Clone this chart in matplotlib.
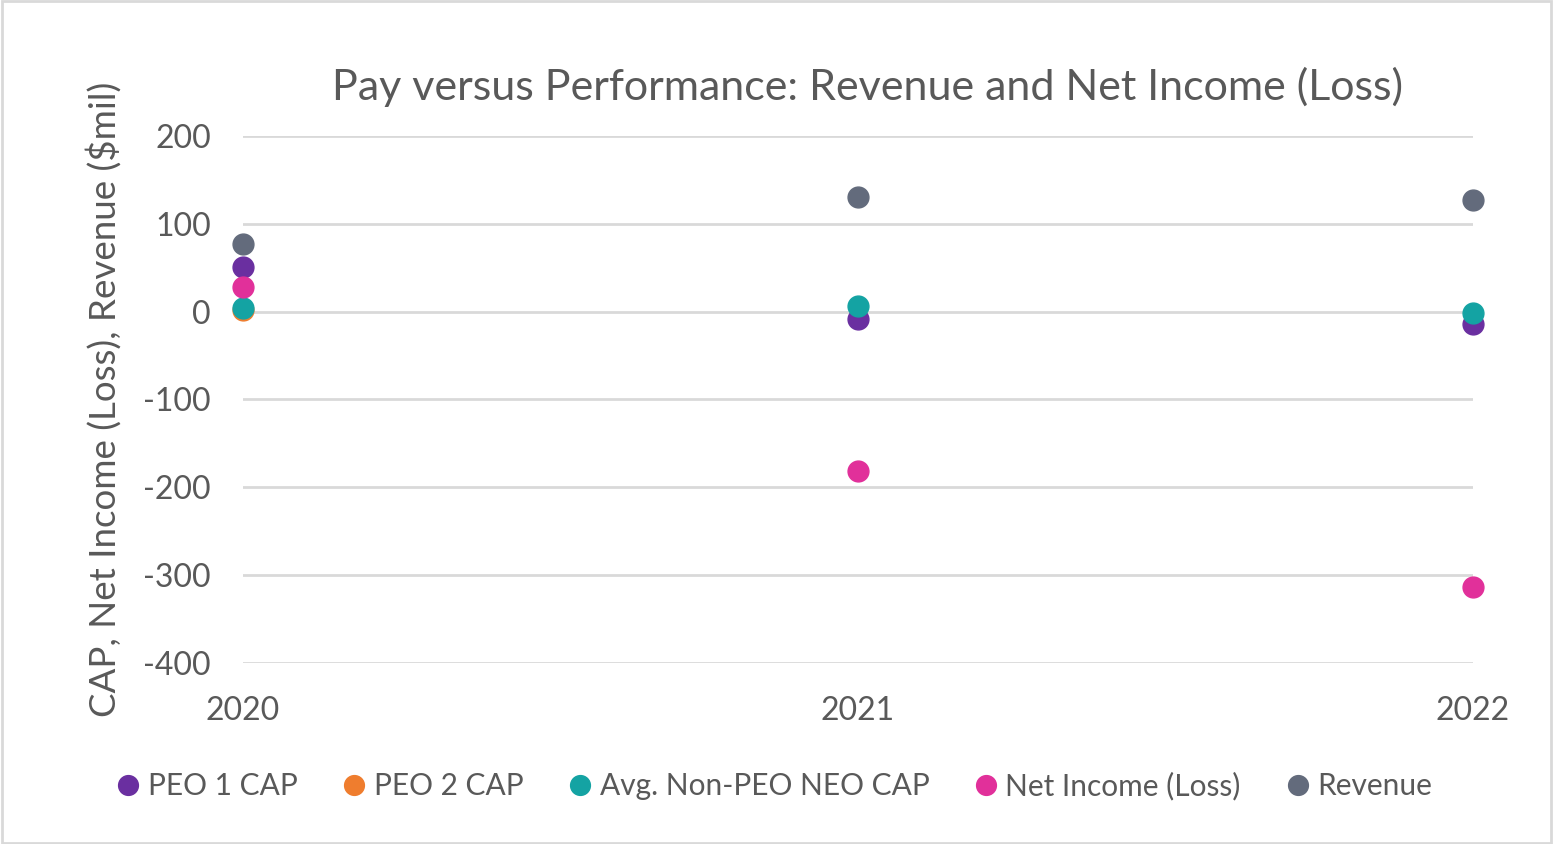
import numpy as np
import matplotlib.pyplot as plt

plt.rcParams['font.family'] = ['Lato', 'DejaVu Sans']
plt.rcParams['axes.unicode_minus'] = False

years = [2020, 2021, 2022]
peo1_cap = [51, -8, -14]
peo2_cap = [1.5, np.nan, np.nan]
avg_neo_cap = [4.5, 6, -1]
net_income = [28.5, -181, -314]
revenue = [77.5, 130, 127.5]

series = [
    ('PEO 1 CAP', peo1_cap, '#6a2fa0'),
    ('PEO 2 CAP', peo2_cap, '#ef7d2e'),
    ('Avg. Non-PEO NEO CAP', avg_neo_cap, '#14a3a3'),
    ('Net Income (Loss)', net_income, '#e1309a'),
    ('Revenue', revenue, '#636b7c'),
]

text_col = '#595959'
fig = plt.figure(figsize=(15.53, 8.44), dpi=100)
ax = fig.add_axes([0.1565, 0.2145, 0.792, 0.6244])

for name, vals, col in series:
    ax.plot(years, vals, 'o', color=col, markersize=15, label=name, clip_on=False, zorder=3)

ax.set_xlim(2020, 2022)
ax.set_ylim(-400, 200)
ax.set_xticks(years)
ax.set_yticks(range(-400, 201, 100))
ax.grid(axis='y', color='#d9d9d9', linewidth=2)
ax.set_axisbelow(True)
for s in ax.spines.values():
    s.set_visible(False)
ax.tick_params(length=0, labelsize=23, colors=text_col)
ax.tick_params(axis='y', pad=23)
ax.tick_params(axis='x', pad=24)

ax.set_title('Pay versus Performance: Revenue and Net Income (Loss)', fontsize=31,
             color=text_col, pad=26, x=0.508)
ax.set_ylabel('CAP, Net Income (Loss), Revenue ($mil)', fontsize=26.5, color=text_col, labelpad=16)

fig.legend(loc='center', bbox_to_anchor=(0.498, 0.069), ncol=5, frameon=False,
           fontsize=21.5, labelcolor=text_col, handlelength=0.9, handletextpad=0.2,
           columnspacing=1.45, markerscale=0.95)

fig.patches.append(plt.Rectangle((0.001, 0.001), 0.998, 0.998, transform=fig.transFigure,
                                 fill=False, edgecolor='#d9d9d9', linewidth=2))

fig.savefig('out.png', dpi=100)
